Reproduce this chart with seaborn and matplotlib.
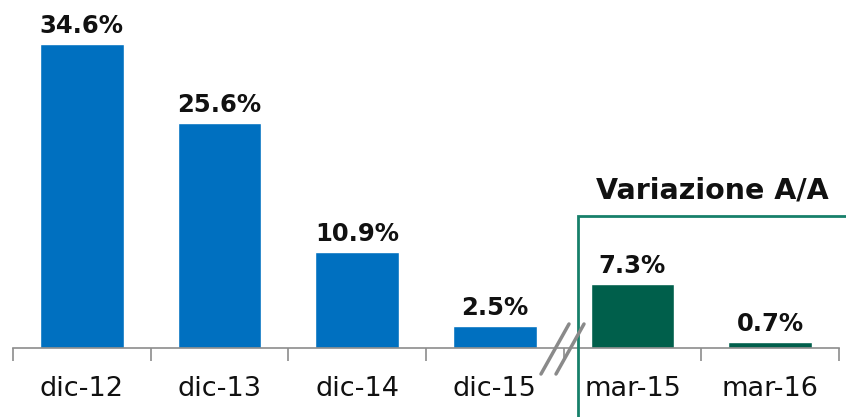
import matplotlib
matplotlib.use("Agg")
import matplotlib.pyplot as plt
import seaborn as sns
import pandas as pd
from matplotlib.patches import Rectangle
from matplotlib.lines import Line2D

categories = ["dic-12", "dic-13", "dic-14", "dic-15", "mar-15", "mar-16"]
values = [34.6, 25.6, 10.9, 2.5, 7.3, 0.7]
labels = ["34.6%", "25.6%", "10.9%", "2.5%", "7.3%", "0.7%"]
colors = ["#0070C0", "#0070C0", "#0070C0", "#0070C0", "#005F4B", "#005F4B"]
box_title = "Variazione A/A"

sns.set_style("white")
plt.rcParams['font.family'] = ['DejaVu Sans']

df = pd.DataFrame({"cat": categories, "val": values})

fig = plt.figure(figsize=(8.46, 4.17), dpi=100)
ax = fig.add_axes([13/846, 69/417, 826/846, 348/417])
sns.barplot(data=df, x="cat", y="val", hue="cat", palette=colors, legend=False,
            width=0.61, ax=ax, saturation=1)

ax.set_xlim(-0.5, 5.5)
ax.set_ylim(0, 348/8.79)
ax.set_xlabel("")
ax.set_ylabel("")
ax.set_yticks([])
for s in ["top", "right", "left"]:
    ax.spines[s].set_visible(False)
ax.spines["bottom"].set_color("#8c8c8c")
ax.spines["bottom"].set_linewidth(1.2)
ax.set_xticks([i - 0.5 for i in range(7)], minor=True)
ax.tick_params(axis="x", which="minor", bottom=True, length=9, color="#8c8c8c", width=1.2, direction="out")
ax.tick_params(axis="x", which="major", bottom=False, length=0, labelsize=19.5, pad=20, labelcolor="#111111")

for i, (v, lab) in enumerate(zip(values, labels)):
    ax.text(i, v + 0.7, lab, ha="center", va="bottom", fontsize=17.5, fontweight="bold", color="#111111")

# break marks
for x_bot, x_top in ((541, 569), (556, 584)):
    fig.add_artist(Line2D([x_bot/846, x_top/846], [(417-374)/417, (417-324)/417],
                          transform=fig.transFigure, color="#8a8a8a", lw=2.5))

# green box
fig.add_artist(Rectangle((578/846, -0.05), 0.5, (417-216)/417 + 0.05, transform=fig.transFigure,
                         fill=False, edgecolor="#17806A", lw=2))
fig.text(712/846, (417-190)/417, box_title, ha="center", va="center", fontsize=20.5,
         fontweight="bold", color="#111111")

fig.savefig("out.png", dpi=100)
